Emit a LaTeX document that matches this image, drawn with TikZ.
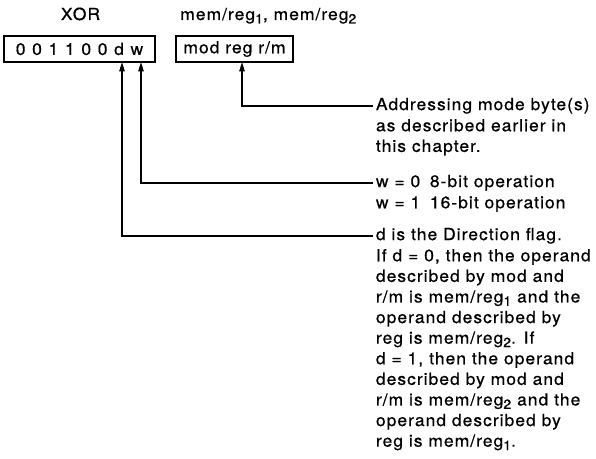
\documentclass[tikz,border=0pt]{standalone}
\usepackage{fontspec}
\setmainfont[FakeStretch=1.05,LetterSpace=6,FakeBold=0.6]{TeX Gyre Heros}
\usetikzlibrary{arrows.meta}

\newcommand{\wcase}[2]{\makebox[40.5pt][l]{#1}#2}
\newcommand{\lowidx}[1]{\raisebox{-2.6pt}{\fontsize{10}{10}\selectfont #1}}

\begin{document}
\begin{tikzpicture}[x=0.75pt,y=-0.75pt,
  font=\fontsize{12.5}{15.45}\selectfont,
  field/.style={draw,line width=1.1pt,inner sep=0pt,minimum height=19.5pt},
  note/.style={inner xsep=2pt,inner ysep=0pt,align=left},
  lead/.style={note,anchor=west,text height=10.8pt,text depth=4.65pt},
  more/.style={note,anchor=north west},
  conn/.style={line width=1.1pt,-{Triangle[length=7pt,width=4pt]}}]
  \useasboundingbox (0,0) rectangle (596,459);
  %
  \node[field,minimum width=113.25pt] (opcode) at (79.5,49)
    {\spaceskip=5pt 0 0 1 1 0 0 d w};
  \node[field,minimum width=87.75pt] (modrm) at (234.5,49) {mod reg r/m};
  \node[anchor=base] (xor) at (80.5,20) {XOR};
  \node[anchor=base west,inner sep=0pt] (operands) at (180,20)
    {mem/reg\lowidx{1}, mem/reg\lowidx{2}};
  %
  \coordinate (dpin) at (122,62);
  \coordinate (wpin) at (141,62);
  \coordinate (rmpin) at (242,62);
  %
  \node[lead] (addr) at (373,106) {Addressing mode byte(s)};
  \node[more] (addrmore) at (addr.south west)
    {\strut as described earlier in\\this chapter.};
  %
  \node[lead] (wbit) at (373,183) {\wcase{w = 0}{8-bit operation}};
  \node[more] (wbitmore) at (wbit.south west)
    {\strut\wcase{w = 1}{16-bit operation}};
  %
  \node[lead] (dbit) at (373,236) {d is the Direction flag.};
  \node[more] (dbitmore) at (dbit.south west)
    {\strut If d = 0, then the operand\\
     described by mod and\\
     r/m is mem/reg\lowidx{1} and the\\
     operand described by\\
     reg is mem/reg\lowidx{2}. If\\
     d = 1, then the operand\\
     described by mod and\\
     r/m is mem/reg\lowidx{2} and the\\
     operand described by\\
     reg is mem/reg\lowidx{1}.};
  %
  \draw[conn] (addr.west) -| (rmpin);
  \draw[conn] (wbit.west) -| (wpin);
  \draw[conn] (dbit.west) -| (dpin);
  %
\end{tikzpicture}
\end{document}
